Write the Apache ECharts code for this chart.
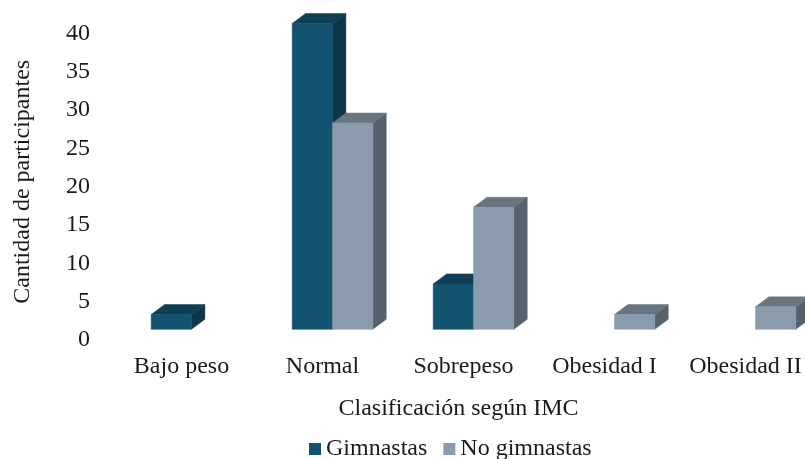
<!DOCTYPE html>
<html><head><meta charset="utf-8">
<style>html,body{margin:0;padding:0;background:#fff}#c{width:805px;height:459px}</style>
<script src="https://cdn.jsdelivr.net/npm/echarts@6/dist/echarts.min.js"></script>
</head><body><div id="c"></div>
<script>
const categories = ["Bajo peso","Normal","Sobrepeso","Obesidad I","Obesidad II"];
const gimnastas = [3,41,7,null,null];
const noGimnastas = [null,28,17,3,4];
const seriesNames = ["Gimnastas","No gimnastas"];
const axisMax = 40, axisStep = 5;
const floorValue = 1.07;          // the 3D floor hides the lowest part of each column
const FONT = '"Liberation Serif"', TXT = '#1a1a1a';
const palette = [
  {front:'#13536f', side:'#0d3648', top:'#0e3f55'},
  {front:'#8a9bab', side:'#55626b', top:'#677580'}
];
const barRatio = 0.286, depthX = 13.4, depthY = 10, shiftX = 10;

function renderer(seriesIdx){
  return function(params, api){
    const v = api.value(1);
    if (v === null || v === undefined || isNaN(v)) return;
    const band = api.size([1,0])[0], w = band*barRatio;
    const top = api.coord([api.value(0), v]);
    const base = api.coord([api.value(0), floorValue]);
    const x0 = top[0] + shiftX + (seriesIdx===0 ? -w : 0), x1 = x0 + w;
    const yT = top[1], yB = base[1];
    const c = palette[seriesIdx];
    const poly = (pts, fill) => ({type:'polygon', shape:{points:pts}, style:{fill, stroke:fill, lineWidth:0.5}});
    return {type:'group', children:[
      poly([[x1,yT],[x1+depthX,yT-depthY],[x1+depthX,yB-depthY],[x1,yB]], c.side),
      poly([[x0,yT],[x0+depthX,yT-depthY],[x1+depthX,yT-depthY],[x1,yT]], c.top),
      poly([[x0,yT],[x1,yT],[x1,yB],[x0,yB]], c.front)
    ]};
  };
}
const toData = arr => arr.map((v,i)=>[i,v]);
const chart = echarts.init(document.getElementById('c'),null,{renderer:'canvas'});
chart.setOption({
  animation:false,
  backgroundColor:'#fff',
  textStyle:{fontFamily:FONT,color:TXT},
  grid:{left:111,width:705,top:31.1,height:306.4,containLabel:false,outerBoundsMode:'none'},
  xAxis:{type:'category',data:categories,
    axisLine:{show:false},axisTick:{show:false},splitLine:{show:false},
    axisLabel:{fontFamily:FONT,fontSize:24,color:TXT,margin:17,interval:0},
    name:'Clasificación según IMC',nameLocation:'middle',nameGap:59,
    nameTextStyle:{fontFamily:FONT,fontSize:24,color:TXT,padding:[0,10,0,0]}
  },
  yAxis:{type:'value',min:0,max:axisMax,interval:axisStep,
    axisLine:{show:false},axisTick:{show:false},splitLine:{show:false},
    axisLabel:{margin:21,formatter:'{t|{value}}',
      rich:{t:{fontFamily:FONT,fontSize:24,color:TXT,padding:[5,0,0,0]}}},
    name:'Cantidad de participantes',nameLocation:'middle',nameGap:76,nameRotate:90,
    nameTextStyle:{fontFamily:FONT,fontSize:24,color:TXT,padding:[0,0,0,5]}
  },
  legend:{data:seriesNames,left:304,top:432,icon:'rect',itemWidth:12,itemHeight:12,itemGap:16,
    textStyle:{fontFamily:FONT,fontSize:24,color:TXT,padding:[9,0,0,0]}},
  series:[
    {name:seriesNames[0],type:'custom',renderItem:renderer(0),data:toData(gimnastas),encode:{x:0,y:1},
      itemStyle:{color:palette[0].front},clip:false},
    {name:seriesNames[1],type:'custom',renderItem:renderer(1),data:toData(noGimnastas),encode:{x:0,y:1},
      itemStyle:{color:palette[1].front},clip:false}
  ]
});
</script></body></html>
